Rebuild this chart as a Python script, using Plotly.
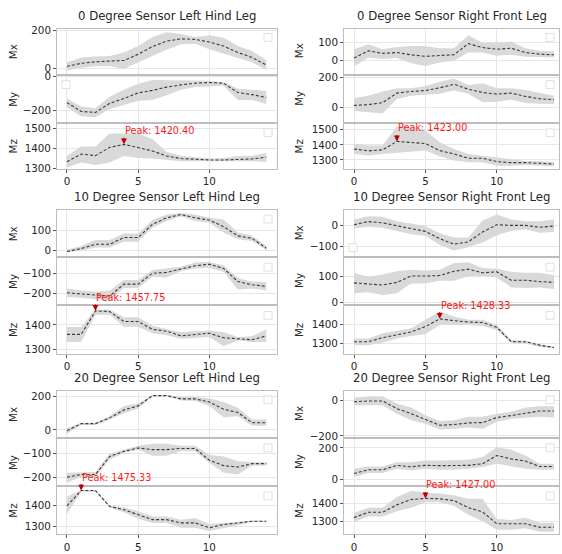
import plotly.graph_objects as go

W, H = 562, 554
X = list(range(15))

# ---------------- data (mean, lower band, upper band) ----------------
# 0 Degree Sensor Left Hind Leg
d0_lh_mx_mean = [10, 26, 34, 38, 41, 74, 114, 143, 155, 152, 138, 117, 83, 57, 17]
d0_lh_mx_lo = [-12, 2, 10, 10, -3, 31, 65, 97, 126, 129, 100, 78, 52, 31, -9]
d0_lh_mx_hi = [31, 57, 62, 65, 83, 117, 165, 190, 181, 165, 174, 160, 117, 91, 43]
d0_lh_my_mean = [-152, -204, -210, -156, -128, -95, -80, -61, -48, -38, -34, -38, -93, -105, -122]
d0_lh_my_lo = [-179, -232, -238, -190, -166, -141, -137, -109, -76, -61, -57, -51, -137, -137, -160]
d0_lh_my_hi = [-128, -175, -185, -118, -76, -42, -19, -19, -19, -23, -23, -32, -70, -76, -84]
d0_lh_mz_mean = [1332, 1371, 1363, 1405, 1420.40, 1405, 1387, 1361, 1348, 1345, 1341, 1341, 1345, 1346, 1355]
d0_lh_mz_lo = [1303, 1328, 1315, 1328, 1361, 1351, 1348, 1340, 1335, 1335, 1335, 1335, 1335, 1335, 1330]
d0_lh_mz_hi = [1363, 1409, 1409, 1476, 1476, 1476, 1448, 1381, 1363, 1355, 1348, 1351, 1361, 1363, 1376]

# 0 Degree Sensor Right Front Leg
d0_rf_mx_mean = [11, 53, 38, 43, 30, 21, 26, 30, 94, 72, 62, 68, 43, 34, 30]
d0_rf_mx_lo = [-38, 15, 6, 11, -19, -34, -15, -4, 43, 43, 25, 30, 19, 15, 15]
d0_rf_mx_hi = [62, 91, 62, 75, 81, 81, 68, 68, 143, 100, 100, 106, 68, 53, 49]
d0_rf_my_mean = [13, 18, 31, 95, 106, 112, 130, 154, 121, 99, 88, 95, 73, 57, 51]
d0_rf_my_lo = [-24, -31, -42, 55, 77, 84, 90, 112, 90, 33, 37, 51, 29, 24, 22]
d0_rf_my_hi = [62, 77, 106, 127, 127, 143, 171, 193, 149, 160, 127, 127, 116, 95, 77]
d0_rf_mz_mean = [1373, 1360, 1367, 1423.00, 1416, 1409, 1362, 1340, 1311, 1311, 1289, 1282, 1282, 1280, 1273]
d0_rf_mz_lo = [1340, 1329, 1340, 1347, 1358, 1362, 1324, 1296, 1284, 1284, 1262, 1262, 1267, 1262, 1258]
d0_rf_mz_hi = [1407, 1396, 1396, 1522, 1522, 1496, 1418, 1373, 1340, 1329, 1318, 1302, 1293, 1293, 1284]

# 10 Degree Sensor Left Hind Leg
d10_lh_mx_mean = [-3, 11, 32, 32, 65, 65, 129, 161, 177, 161, 150, 118, 73, 61, 13]
d10_lh_mx_lo = [-8, 0, 16, 16, 44, 44, 113, 145, 169, 145, 137, 89, 56, 48, 3]
d10_lh_mx_hi = [5, 24, 53, 53, 85, 85, 150, 177, 185, 177, 161, 153, 89, 73, 24]
d10_lh_my_mean = [-195, -200, -206, -211, -152, -152, -98, -94, -77, -61, -53, -74, -139, -155, -163]
d10_lh_my_lo = [-216, -219, -227, -232, -171, -171, -115, -119, -87, -74, -71, -90, -179, -174, -184]
d10_lh_my_hi = [-174, -184, -190, -184, -131, -131, -82, -74, -66, -45, -42, -58, -123, -139, -142]
d10_lh_mz_mean = [1361, 1361, 1457.75, 1455, 1414, 1414, 1382, 1374, 1355, 1362, 1366, 1347, 1343, 1339, 1355]
d10_lh_mz_lo = [1330, 1330, 1442, 1442, 1393, 1393, 1366, 1357, 1343, 1347, 1350, 1312, 1336, 1330, 1330]
d10_lh_mz_hi = [1391, 1391, 1464, 1464, 1432, 1432, 1397, 1384, 1370, 1374, 1377, 1370, 1350, 1353, 1382]

# 10 Degree Sensor Right Front Leg
d10_rf_mx_mean = [3, 18, 12, -3, -15, -28, -62, -88, -77, -31, 3, 0, 0, -9, -3]
d10_rf_mx_lo = [-15, -6, -11, -26, -42, -49, -92, -118, -102, -80, -46, -26, -18, -34, -31]
d10_rf_mx_hi = [28, 43, 40, 20, 9, -3, -37, -57, -57, 23, 51, 28, 20, 20, 28]
d10_rf_my_mean = [74, 70, 66, 76, 100, 100, 102, 118, 126, 112, 116, 84, 84, 79, 76]
d10_rf_my_lo = [35, 39, 27, 35, 72, 72, 82, 82, 99, 100, 94, 57, 55, 57, 51]
d10_rf_my_hi = [112, 96, 106, 118, 124, 121, 124, 149, 152, 130, 128, 116, 112, 112, 104]
d10_rf_mz_mean = [1309, 1309, 1330, 1344, 1360, 1388, 1428.33, 1419, 1412, 1409, 1384, 1309, 1309, 1291, 1279]
d10_rf_mz_lo = [1291, 1291, 1304, 1326, 1339, 1349, 1396, 1396, 1396, 1391, 1370, 1304, 1300, 1282, 1274]
d10_rf_mz_hi = [1326, 1326, 1353, 1367, 1379, 1423, 1467, 1440, 1423, 1423, 1396, 1318, 1314, 1296, 1282]

# 20 Degree Sensor Left Hind Leg
d20_lh_mx_mean = [-4, 38, 38, 72, 119, 143, 204, 204, 185, 185, 166, 123, 104, 43, 43]
d20_lh_mx_lo = [-23, 30, 30, 62, 100, 128, 200, 200, 175, 172, 143, 75, 81, 25, 25]
d20_lh_mx_hi = [11, 43, 43, 81, 143, 157, 208, 208, 198, 198, 189, 166, 132, 62, 62]
d20_lh_my_mean = [-200, -189, -189, -114, -93, -79, -86, -86, -81, -81, -130, -152, -158, -144, -144]
d20_lh_my_lo = [-223, -199, -199, -127, -100, -86, -111, -111, -93, -93, -141, -182, -189, -152, -152]
d20_lh_my_hi = [-182, -179, -179, -103, -86, -70, -62, -62, -70, -70, -107, -114, -134, -138, -138]
d20_lh_mz_mean = [1400, 1475.33, 1475.33, 1397, 1381, 1356, 1332, 1332, 1316, 1316, 1292, 1308, 1316, 1324, 1324]
d20_lh_mz_lo = [1360, 1469, 1469, 1392, 1369, 1337, 1316, 1316, 1292, 1292, 1276, 1289, 1305, 1321, 1321]
d20_lh_mz_hi = [1445, 1478, 1478, 1402, 1392, 1373, 1348, 1348, 1332, 1340, 1311, 1316, 1324, 1327, 1327]

# 20 Degree Sensor Right Front Leg
d20_rf_mx_mean = [-9, -4, -4, -47, -75, -108, -140, -136, -127, -125, -97, -86, -71, -60, -60]
d20_rf_mx_lo = [-28, -28, -28, -75, -112, -131, -164, -159, -153, -159, -121, -103, -97, -93, -97]
d20_rf_mx_hi = [15, 22, 22, -19, -41, -84, -116, -112, -93, -93, -75, -65, -41, -34, -34]
d20_rf_my_mean = [38, 62, 62, 90, 81, 90, 88, 88, 90, 100, 152, 131, 117, 83, 83]
d20_rf_my_lo = [17, 42, 42, 69, 58, 69, 62, 62, 69, 79, 100, 83, 69, 62, 62]
d20_rf_my_hi = [69, 83, 83, 110, 110, 121, 121, 121, 125, 142, 204, 188, 152, 100, 100]
d20_rf_mz_mean = [1323, 1352, 1352, 1392, 1421, 1427.00, 1425, 1415, 1377, 1354, 1290, 1290, 1290, 1271, 1271]
d20_rf_mz_lo = [1300, 1329, 1329, 1358, 1377, 1406, 1406, 1387, 1338, 1304, 1258, 1258, 1265, 1246, 1246]
d20_rf_mz_hi = [1348, 1377, 1377, 1435, 1469, 1458, 1454, 1444, 1425, 1425, 1315, 1310, 1323, 1296, 1296]

COMPONENTS = ["Mx", "My", "Mz"]
X_TICKS = [0, 5, 10]

# ---------------- panel definitions ----------------
panels = [
    dict(title="0 Degree Sensor Left Hind Leg", col=0, row=0,
         series=[(d0_lh_mx_mean, d0_lh_mx_lo, d0_lh_mx_hi),
                 (d0_lh_my_mean, d0_lh_my_lo, d0_lh_my_hi),
                 (d0_lh_mz_mean, d0_lh_mz_lo, d0_lh_mz_hi)],
         yr=[[-29, 209], [-265, 6], [1295, 1525]], dt=[200, 200, 100],
         leg=["tr", "tl", "tr"]),
    dict(title="0 Degree Sensor Right Front Leg", col=1, row=0,
         series=[(d0_rf_mx_mean, d0_rf_mx_lo, d0_rf_mx_hi),
                 (d0_rf_my_mean, d0_rf_my_lo, d0_rf_my_hi),
                 (d0_rf_mz_mean, d0_rf_mz_lo, d0_rf_mz_hi)],
         yr=[[-79, 181], [-97, 211], [1240, 1540]], dt=[100, 200, 100],
         leg=["tr", "tr", "tr"]),
    dict(title="10 Degree Sensor Left Hind Leg", col=0, row=1,
         series=[(d10_lh_mx_mean, d10_lh_mx_lo, d10_lh_mx_hi),
                 (d10_lh_my_mean, d10_lh_my_lo, d10_lh_my_hi),
                 (d10_lh_mz_mean, d10_lh_mz_lo, d10_lh_mz_hi)],
         yr=[[-27, 198], [-248, -24], [1282, 1476]], dt=[100, 100, 100],
         leg=["tr", "tr", "tr"]),
    dict(title="10 Degree Sensor Right Front Leg", col=1, row=1,
         series=[(d10_rf_mx_mean, d10_rf_mx_lo, d10_rf_mx_hi),
                 (d10_rf_my_mean, d10_rf_my_lo, d10_rf_my_hi),
                 (d10_rf_mz_mean, d10_rf_mz_lo, d10_rf_mz_hi)],
         yr=[[-145, 71], [-4, 167], [1247, 1493]], dt=[100, 100, 100],
         leg=["bl", "tr", "tr"]),
    dict(title="20 Degree Sensor Left Hind Leg", col=0, row=2,
         series=[(d20_lh_mx_mean, d20_lh_mx_lo, d20_lh_mx_hi),
                 (d20_lh_my_mean, d20_lh_my_lo, d20_lh_my_hi),
                 (d20_lh_mz_mean, d20_lh_mz_lo, d20_lh_mz_hi)],
         yr=[[-42, 232], [-233, -42], [1260, 1492]], dt=[200, 100, 100],
         leg=["tr", "tr", "tr"]),
    dict(title="20 Degree Sensor Right Front Leg", col=1, row=2,
         series=[(d20_rf_mx_mean, d20_rf_mx_lo, d20_rf_mx_hi),
                 (d20_rf_my_mean, d20_rf_my_lo, d20_rf_my_hi),
                 (d20_rf_mz_mean, d20_rf_mz_lo, d20_rf_mz_hi)],
         yr=[[-206, 52], [-35, 256], [1233, 1488]], dt=[200, 200, 100],
         leg=["tr", "tr", "tr"]),
]

# ---------------- pixel layout ----------------
COL_X = [(57, 277), (344, 559)]
COL_XRANGE = [[-0.7, 14.75], [-0.7, 14.35]]
YLABEL_X = [13, 299]
ROW_Y = [[(24, 70), (72, 119), (121, 167)],
         [(209, 256), (258, 304), (307, 355)],
         [(393, 440), (442, 489), (491, 539)]]
TITLE_Y = [11, 196, 380]

FONT = "DejaVu Sans"
SPINE = "#bdbdbd"
GRID = "#e6e6e6"
BAND = "#d9d9d9"
LINE = "#3a3a3a"


def px(x):
    return x / W


def py(y):
    return 1 - y / H


fig = go.Figure()
layout = dict(width=W, height=H, margin=dict(l=0, r=0, t=0, b=0),
              paper_bgcolor="white", plot_bgcolor="white", showlegend=False,
              font=dict(family=FONT, size=10.3, color="#262626"))
annotations = []
shapes = []

k = 0
for p in panels:
    c, r = p["col"], p["row"]
    x0, x1 = COL_X[c]
    for i, comp in enumerate(COMPONENTS):
        k += 1
        xa = "x" if k == 1 else f"x{k}"
        ya = "y" if k == 1 else f"y{k}"
        xkey = "xaxis" if k == 1 else f"xaxis{k}"
        ykey = "yaxis" if k == 1 else f"yaxis{k}"
        mean, lo, hi = p["series"][i]
        fig.add_trace(go.Scatter(x=X, y=hi, mode="lines", line=dict(width=0, color=BAND),
                                 xaxis=xa, yaxis=ya, hoverinfo="skip"))
        fig.add_trace(go.Scatter(x=X, y=lo, mode="lines", line=dict(width=0, color=BAND),
                                 fill="tonexty", fillcolor=BAND,
                                 xaxis=xa, yaxis=ya, hoverinfo="skip"))
        fig.add_trace(go.Scatter(x=X, y=mean, mode="lines",
                                 line=dict(width=1.1, color=LINE, dash="3px,2px"),
                                 xaxis=xa, yaxis=ya))
        yt, yb = ROW_Y[r][i]
        bottom = (i == 2)
        layout[xkey] = dict(domain=[px(x0), px(x1)], anchor=ya, range=COL_XRANGE[c],
                            tickmode="array", tickvals=X_TICKS, showticklabels=bottom,
                            ticks="outside" if bottom else "", ticklen=3, tickcolor="#555",
                            showgrid=True, gridcolor=GRID, gridwidth=1, zeroline=False,
                            showline=True, linecolor=SPINE, linewidth=1, mirror=True,
                            tickfont=dict(size=10.3, family=FONT, color="#262626"))
        layout[ykey] = dict(domain=[py(yb), py(yt)], anchor=xa, range=p["yr"][i],
                            dtick=p["dt"][i], tick0=0, ticks="outside", ticklen=3,
                            tickcolor="#555", showgrid=True, gridcolor=GRID, gridwidth=1,
                            zeroline=False, showline=True, linecolor=SPINE, linewidth=1,
                            mirror=True, tickfont=dict(size=10.3, family=FONT, color="#262626"))
        # y-axis label
        annotations.append(dict(text=comp, xref="paper", yref="paper",
                                x=px(YLABEL_X[c]), y=py((yt + yb) / 2), showarrow=False,
                                textangle=-90, xanchor="center", yanchor="middle",
                                font=dict(size=10.3, family=FONT, color="#262626")))
        # empty legend box
        pos = p["leg"][i]
        s = 8
        if pos == "tr":
            bx0, by0 = x1 - 5 - s, yt + 5
        elif pos == "tl":
            bx0, by0 = x0 + 5, yt + 5
        else:
            bx0, by0 = x0 + 5, yb - 5 - s
        shapes.append(dict(type="rect", xref="paper", yref="paper",
                           x0=px(bx0), x1=px(bx0 + s), y0=py(by0 + s), y1=py(by0),
                           line=dict(color="#e0e0e0", width=1), fillcolor="rgba(255,255,255,0.8)"))
        # peak annotation on Mz
        if comp == "Mz":
            idx = max(range(len(mean)), key=lambda j: mean[j])
            v = mean[idx]
            annotations.append(dict(x=idx, y=v, xref=xa, yref=ya, text="", showarrow=True,
                                    ax=0, ay=-8, arrowhead=2, arrowsize=0.9, arrowwidth=1.3,
                                    arrowcolor="#c00000"))
            annotations.append(dict(x=idx, y=v, xref=xa, yref=ya, text=f"Peak: {v:.2f}",
                                    showarrow=False, xanchor="left", yanchor="bottom",
                                    yshift=7, borderpad=0,
                                    font=dict(size=9.7, family=FONT, color="#ff1a1a")))
    # panel title
    annotations.append(dict(text=p["title"], xref="paper", yref="paper",
                            x=px((x0 + x1) / 2), y=py(TITLE_Y[r]), showarrow=False,
                            xanchor="center", yanchor="middle",
                            font=dict(size=11.7, family=FONT, color="#262626")))

layout["annotations"] = annotations
layout["shapes"] = shapes
fig.update_layout(**layout)
fig.write_html("out.html", config={"displayModeBar": False},
               post_script="document.body.style.margin='0px';document.body.style.overflow='hidden';")
